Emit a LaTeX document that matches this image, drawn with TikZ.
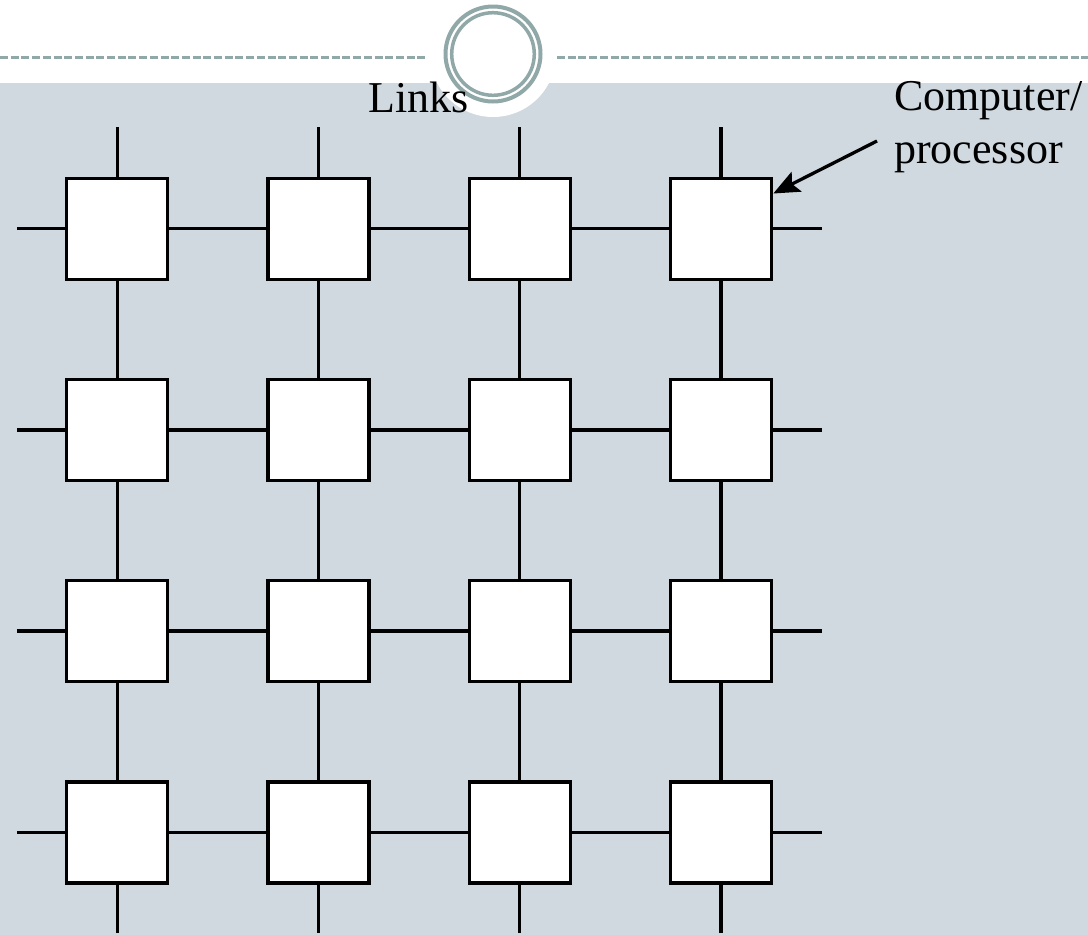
\documentclass[tikz,border=0pt]{standalone}
\usepackage{fontspec}
\setmainfont{Liberation Serif}
\usetikzlibrary{arrows.meta}
\definecolor{panel}{RGB}{207,217,223}
\definecolor{ringcol}{RGB}{145,168,168}
\begin{document}
\begin{tikzpicture}[x=1pt,y=-1pt,
  pe/.style={draw=black,fill=white,line width=3.4pt,minimum size=101pt,inner sep=0pt},
  link/.style={line width=3.3pt},
  rule/.style={ringcol,line width=2.8pt,dash pattern=on 8pt off 2.7pt},
  lbl/.style={font=\fontsize{44}{53}\selectfont,inner sep=0pt}]
\useasboundingbox (0,0) rectangle (1088,935);
% slide background and header ornament
\fill[panel] (0,83) rectangle (1088,935);
\fill[white] (493,54) circle[radius=63pt];
\draw[rule] (0,57.7) -- (427,57.7);
\draw[rule] (557,57.7) -- (1088,57.7);
\draw[ringcol,line width=4pt] (493,54) circle[radius=47.5pt];
\draw[ringcol,line width=3.5pt] (493,54) circle[radius=41.3pt];
% processing elements
\foreach \i/\x in {1/117.2,2/318.5,3/519.8,4/721.1}
  \foreach \j/\y in {1/228.7,2/429.9,3/631.1,4/832.3}
    \node[pe] (p\i\j) at (\x,\y) {};
% horizontal links
\foreach \j/\y in {1/228.7,2/429.9,3/631.1,4/832.3}{
  \coordinate (l\j) at (17,\y);
  \coordinate (r\j) at (822,\y);
  \draw[link] (l\j) -- (p1\j.west);
  \draw[link] (p1\j.east) -- (p2\j.west);
  \draw[link] (p2\j.east) -- (p3\j.west);
  \draw[link] (p3\j.east) -- (p4\j.west);
  \draw[link] (p4\j.east) -- (r\j);
}
% vertical links
\foreach \i/\x in {1/117.2,2/318.5,3/519.8,4/721.1}{
  \coordinate (t\i) at (\x,127.3);
  \coordinate (b\i) at (\x,933);
  \draw[link] (t\i) -- (p\i1.north);
  \draw[link] (p\i1.south) -- (p\i2.north);
  \draw[link] (p\i2.south) -- (p\i3.north);
  \draw[link] (p\i3.south) -- (p\i4.north);
  \draw[link] (p\i4.south) -- (b\i);
}
% labels
\node[lbl,anchor=base west] (links) at (368,112) {Links};
\node[lbl,anchor=base west,align=left] (cpu) at (894,163) {Computer/\\processor};
\coordinate (tail) at (877,141);
\draw[link,-{Stealth[length=26pt,width=22pt,inset=5pt]}] (tail) -- ([yshift=-17pt]p41.north east);
\end{tikzpicture}
\end{document}
